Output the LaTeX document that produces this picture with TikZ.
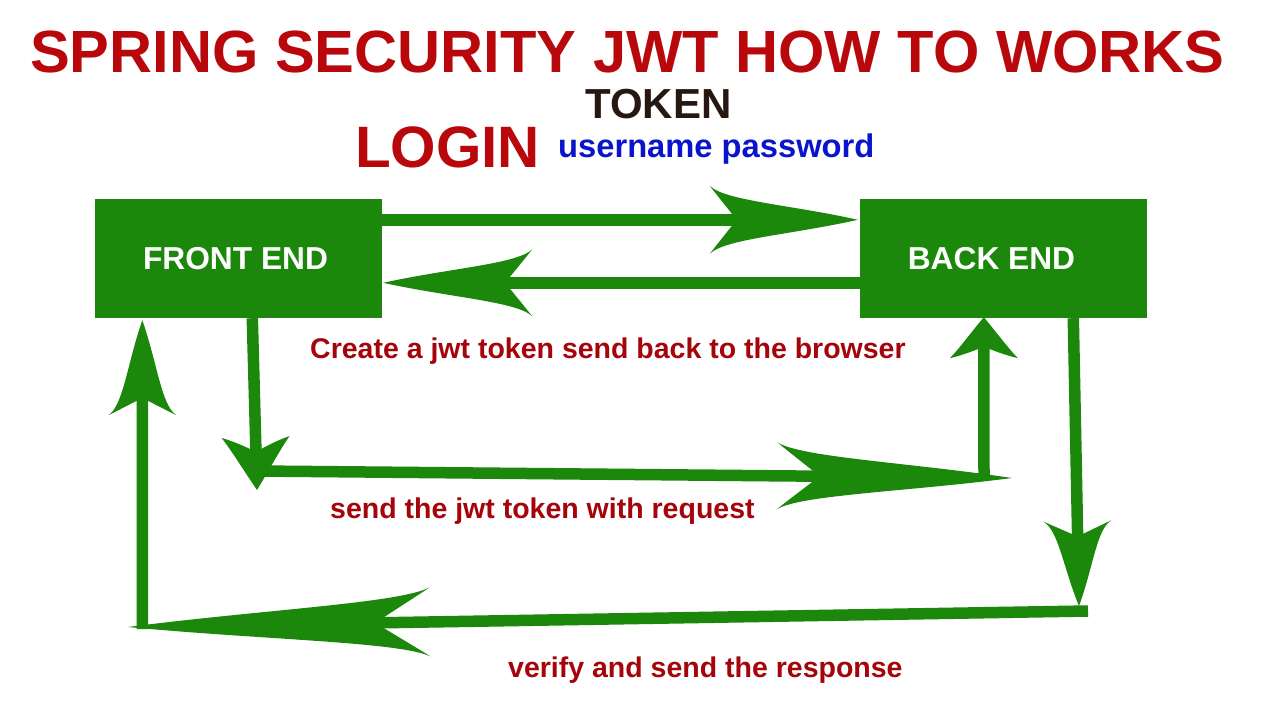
\documentclass[tikz,border=0pt]{standalone}
\usepackage{fontspec}
\setmainfont{Liberation Sans}
\usetikzlibrary{arrows.meta}
\definecolor{g}{RGB}{27,135,11}
\definecolor{tred}{RGB}{185,8,12}
\definecolor{lred}{RGB}{165,5,10}
\definecolor{tblue}{RGB}{10,20,205}
\definecolor{tbrown}{RGB}{38,24,16}
\pgfdeclarearrow{
  name = JBarb,
  defaults = {length = 100pt, width = 68pt},
  setup code = {
    \pgfarrowssettipend{0pt}
    \pgfarrowssetlineend{-.8\pgfarrowlength}
    \pgfarrowssetvisualbackend{-\pgfarrowlength}
    \pgfarrowssetbackend{-\pgfarrowlength}
    \pgfarrowshullpoint{0pt}{0pt}
    \pgfarrowsupperhullpoint{-\pgfarrowlength}{.5\pgfarrowwidth}
    \pgfarrowssavethe\pgfarrowlength
    \pgfarrowssavethe\pgfarrowwidth
  },
  drawing code = {
    \pgfpathmoveto{\pgfpointorigin}
    \pgfpathcurveto{\pgfpoint{-.45\pgfarrowlength}{.22\pgfarrowwidth}}{\pgfpoint{-.9\pgfarrowlength}{.28\pgfarrowwidth}}{\pgfpoint{-\pgfarrowlength}{.5\pgfarrowwidth}}
    \pgfpathcurveto{\pgfpoint{-.93\pgfarrowlength}{.3\pgfarrowwidth}}{\pgfpoint{-.86\pgfarrowlength}{.12\pgfarrowwidth}}{\pgfpoint{-.82\pgfarrowlength}{0pt}}
    \pgfpathcurveto{\pgfpoint{-.86\pgfarrowlength}{-.12\pgfarrowwidth}}{\pgfpoint{-.93\pgfarrowlength}{-.3\pgfarrowwidth}}{\pgfpoint{-\pgfarrowlength}{-.5\pgfarrowwidth}}
    \pgfpathcurveto{\pgfpoint{-.9\pgfarrowlength}{-.28\pgfarrowwidth}}{\pgfpoint{-.45\pgfarrowlength}{-.22\pgfarrowwidth}}{\pgfpointorigin}
    \pgfpathclose
    \pgfusepathqfill
  },
  parameters = {\the\pgfarrowlength,\the\pgfarrowwidth},
}
\pgfdeclarearrow{
  name = JBarbS,
  defaults = {length = 50pt, width = 68pt},
  setup code = {
    \pgfarrowssettipend{0pt}
    \pgfarrowssetlineend{-.6\pgfarrowlength}
    \pgfarrowssetvisualbackend{-\pgfarrowlength}
    \pgfarrowssetbackend{-\pgfarrowlength}
    \pgfarrowshullpoint{0pt}{0pt}
    \pgfarrowsupperhullpoint{-\pgfarrowlength}{.5\pgfarrowwidth}
    \pgfarrowssavethe\pgfarrowlength
    \pgfarrowssavethe\pgfarrowwidth
  },
  drawing code = {
    \pgfpathmoveto{\pgfpointorigin}
    \pgfpathcurveto{\pgfpoint{-.4\pgfarrowlength}{.2\pgfarrowwidth}}{\pgfpoint{-.8\pgfarrowlength}{.38\pgfarrowwidth}}{\pgfpoint{-\pgfarrowlength}{.5\pgfarrowwidth}}
    \pgfpathcurveto{\pgfpoint{-.92\pgfarrowlength}{.3\pgfarrowwidth}}{\pgfpoint{-.8\pgfarrowlength}{.12\pgfarrowwidth}}{\pgfpoint{-.72\pgfarrowlength}{0pt}}
    \pgfpathcurveto{\pgfpoint{-.8\pgfarrowlength}{-.12\pgfarrowwidth}}{\pgfpoint{-.92\pgfarrowlength}{-.3\pgfarrowwidth}}{\pgfpoint{-\pgfarrowlength}{-.5\pgfarrowwidth}}
    \pgfpathcurveto{\pgfpoint{-.8\pgfarrowlength}{-.38\pgfarrowwidth}}{\pgfpoint{-.4\pgfarrowlength}{-.2\pgfarrowwidth}}{\pgfpointorigin}
    \pgfpathclose
    \pgfusepathqfill
  },
  parameters = {\the\pgfarrowlength,\the\pgfarrowwidth},
}
\tikzset{
  box/.style={fill=g, minimum width=287pt, minimum height=119pt, inner sep=0pt,
    text=white, font=\fontsize{31.7}{32}\selectfont\bfseries},
  conn/.style={g, line width=11.5pt},
  txt/.style={anchor=base west, inner sep=0pt},
  lab/.style={txt, text=lred, font=\fontsize{28.5}{30}\selectfont\bfseries},
}
\begin{document}
\begin{tikzpicture}[x=1pt,y=-1pt]
\fill[white] (0,0) rectangle (1280,720);
\useasboundingbox (0,0) rectangle (1280,720);

\node[txt, text=tred, font=\fontsize{59.6}{60}\selectfont\bfseries] (title) at (30,72) {SPRING SECURITY JWT HOW TO WORKS};
\node[txt, text=tbrown, font=\fontsize{42}{44}\selectfont\bfseries] (token) at (585,118) {TOKEN};
\node[txt, text=tred, font=\fontsize{58.4}{60}\selectfont\bfseries] (login) at (355,167) {LOGIN};
\node[txt, text=tblue, font=\fontsize{32.7}{34}\selectfont\bfseries] (cred) at (558,157) {username password};

\node[box] (fe) at (238.5,258.5) {\hspace*{-6pt}FRONT END};
\node[box] (be) at (1003.5,258.5) {\hspace*{-24pt}BACK END};

\node[lab] (l1) at (310,358) {Create a jwt token send back to the browser};
\node[lab] (l2) at (330,518) {send the jwt token with request};
\node[lab] (l3) at (508,677) {verify and send the response};

\coordinate (c3) at (257,490);
\coordinate (c4a) at (258,471);
\coordinate (c4b) at (1012,478);
\coordinate (c5) at (984,478);
\coordinate (c6) at (1079,606);
\coordinate (c7a) at (1088,611);
\coordinate (c7b) at (128,627);
\coordinate (c8) at (142.5,629);

\draw[conn, -{JBarb[length=148pt,width=68pt]}] ([yshift=-21pt]fe.north east) -- ([yshift=-21pt,xshift=-2pt]be.north west);
\draw[conn, -{JBarb[length=149pt,width=67pt]}] ([yshift=-84pt]be.north west) -- ([yshift=-84pt,xshift=1pt]fe.north east);
\draw[conn, -{JBarbS[length=53pt,width=68pt]}] ([xshift=157.5pt]fe.south west) -- (c3);
\draw[conn, -{JBarb[length=235pt,width=67pt]}] (c4a) -- (c4b);
\draw[conn, -{JBarbS[length=41pt,width=68pt]}] (c5) -- ([xshift=124pt,yshift=1pt]be.south west);
\draw[conn, -{JBarb[length=85pt,width=68pt]}] ([xshift=213.5pt]be.south west) -- (c6);
\draw[conn, -{JBarb[length=302pt,width=69pt]}] (c7a) -- (c7b);
\draw[conn, -{JBarb[length=95pt,width=68pt]}] (c8) -- ([xshift=47.5pt,yshift=-2pt]fe.south west);
\end{tikzpicture}
\end{document}
